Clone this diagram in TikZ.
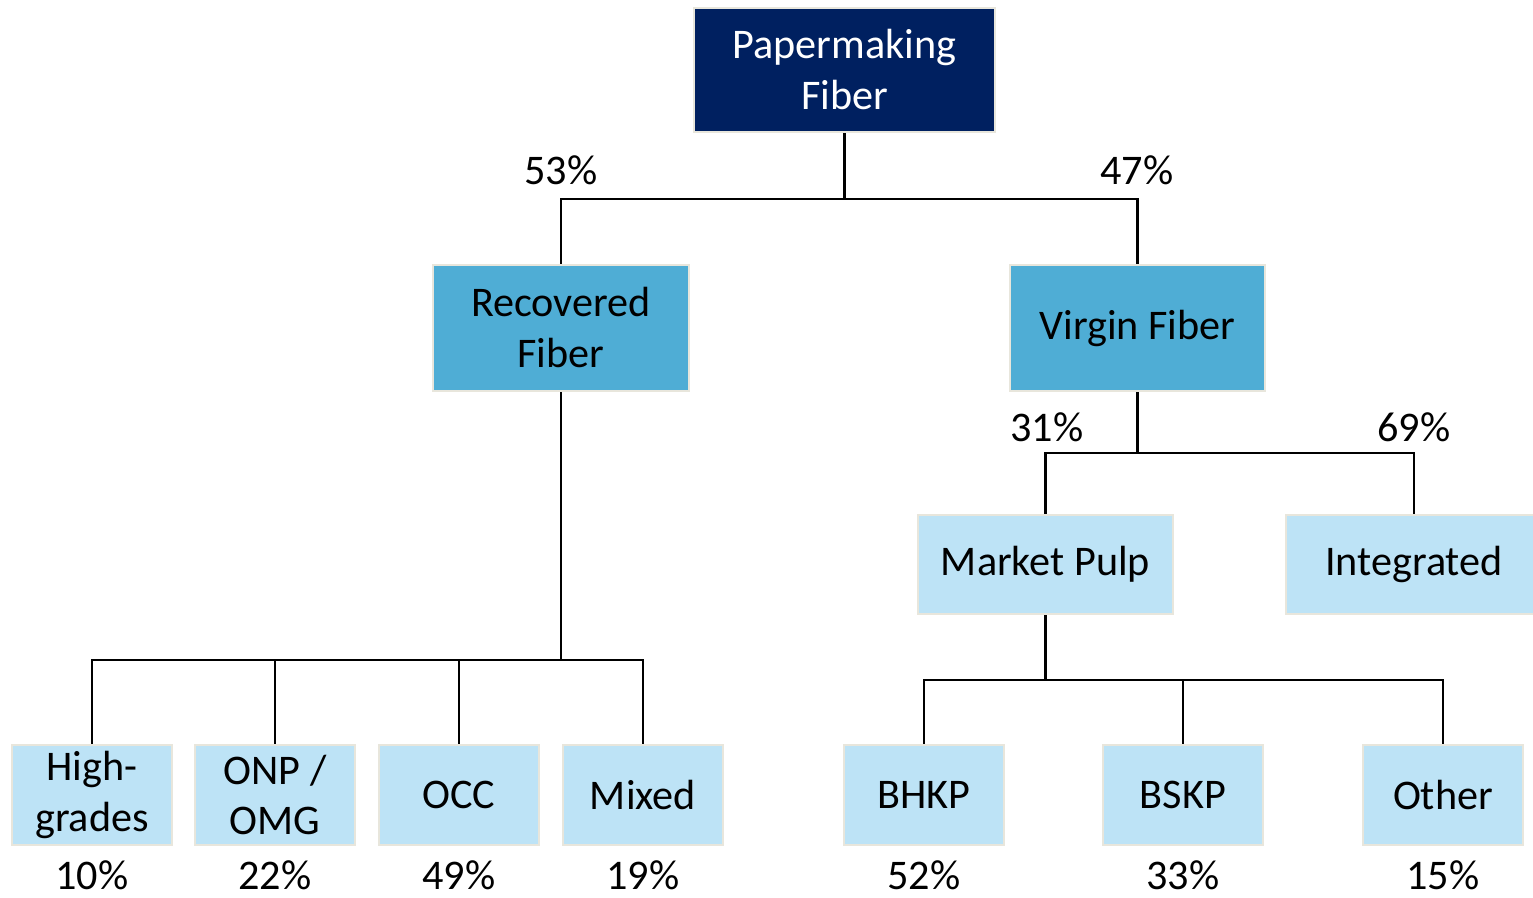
\documentclass[tikz,border=0pt]{standalone}
\usepackage{fontspec}
\setmainfont{Carlito}
\usepackage{tikz}

\definecolor{navy}{RGB}{0,32,96}
\definecolor{midblue}{RGB}{79,173,213}
\definecolor{paleblue}{RGB}{189,227,246}
\definecolor{rim}{RGB}{232,230,220}

\begin{document}
\begin{tikzpicture}[x=0.01cm,y=-0.01cm,
  font=\fontsize{12}{14.5}\selectfont,
  box/.style={draw=rim,line width=0.6pt,align=center,inner sep=0pt},
  top/.style={box,fill=navy,text=white,minimum width=3.01cm,minimum height=1.24cm},
  mid/.style={box,fill=midblue,minimum width=2.55cm,minimum height=1.26cm},
  sub/.style={box,fill=paleblue,minimum width=2.55cm,minimum height=0.99cm},
  leaf/.style={box,fill=paleblue,minimum width=1.6cm,minimum height=1.0cm},
  pct/.style={inner sep=0.5pt},
  link/.style={line width=0.6pt}]
\useasboundingbox (0,0) rectangle (1533,898);

\node[top] (paper) at (844.5,70) {Papermaking\\Fiber};
\node[mid] (rec) at (561,328) {Recovered\\Fiber};
\node[mid] (vir) at (1137.5,328) {Virgin Fiber};
\node[sub] (mkt) at (1045.5,564.5) {Market Pulp};
\node[sub] (integ) at (1414,564.5) {Integrated};

\node[leaf] (hg) at (92,795) {High-\\grades};
\node[leaf] (onp) at (275,795) {ONP /\\OMG};
\node[leaf] (occ) at (459,795) {OCC};
\node[leaf] (mix) at (643,795) {Mixed};
\node[leaf] (bhkp) at (924,795) {BHKP};
\node[leaf] (bskp) at (1183,795) {BSKP};
\node[leaf] (oth) at (1443,795) {Other};

\coordinate (j1) at (844.5,199);
\coordinate (j2) at (561,660);
\coordinate (j3) at (1137.5,453);
\coordinate (j4) at (1045.5,680);

\draw[link] (paper) -- (j1);
\draw[link] (j1) -| (rec);
\draw[link] (j1) -| (vir);
\draw[link] (rec) -- (j2);
\foreach \c in {hg,onp,occ,mix}
  \draw[link] (j2) -| (\c);
\draw[link] (vir) -- (j3);
\draw[link] (j3) -| (mkt);
\draw[link] (j3) -| (integ);
\draw[link] (mkt) -- (j4);
\foreach \c in {bhkp,bskp,oth}
  \draw[link] (j4) -| (\c);

\node[pct] (p53) at (561,170) {53\%};
\node[pct] (p47) at (1137,170) {47\%};
\node[pct] (p31) at (1047,427) {31\%};
\node[pct] (p69) at (1414,427) {69\%};

\node[pct] (p10) at (92,875) {10\%};
\node[pct] (p22) at (275,875) {22\%};
\node[pct] (p49) at (459,875) {49\%};
\node[pct] (p19) at (643,875) {19\%};
\node[pct] (p52) at (924,875) {52\%};
\node[pct] (p33) at (1183,875) {33\%};
\node[pct] (p15) at (1443,875) {15\%};
\end{tikzpicture}
\end{document}
